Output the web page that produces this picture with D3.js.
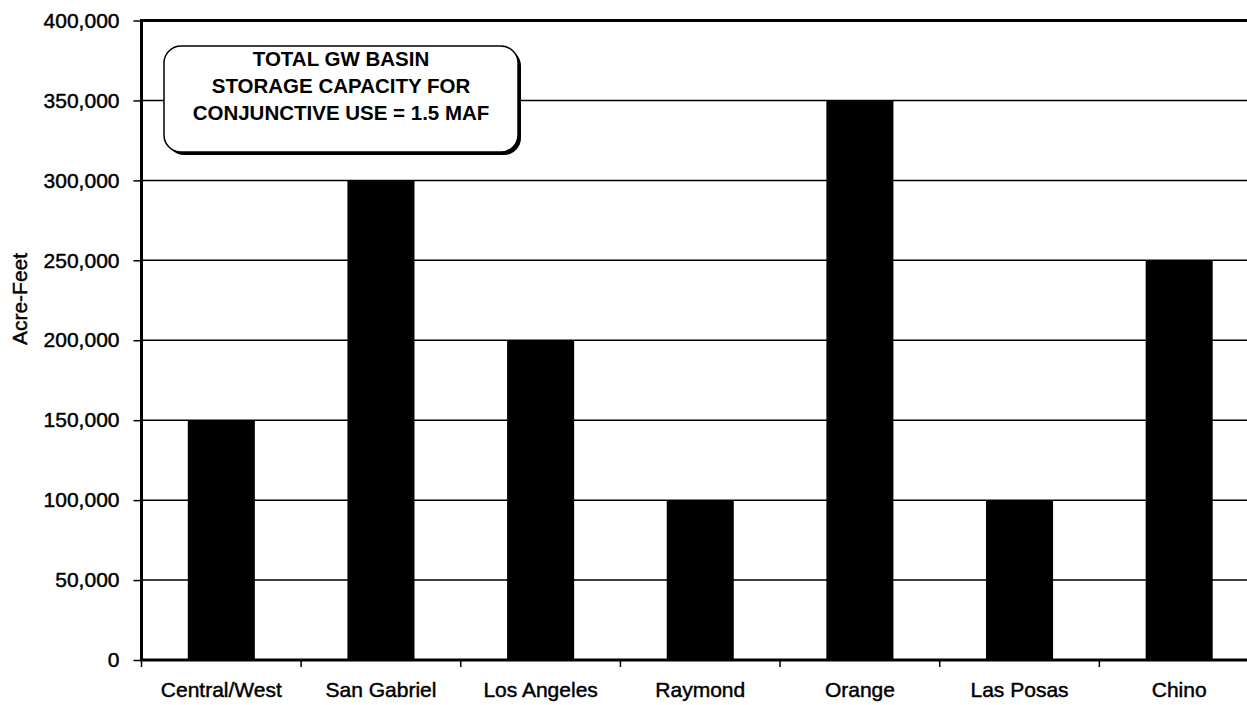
<!DOCTYPE html>
<html>
<head>
<meta charset="utf-8">
<script src="https://cdn.jsdelivr.net/npm/d3@7"></script>
<style>
  body { margin: 0; background: #fff; }
  svg text { font-family: Arial, "Liberation Sans", sans-serif; fill: #000; }
  .label { stroke: #000; stroke-width: 0.45px; }
</style>
</head>
<body>
<svg id="chart" width="1247" height="705"></svg>
<script>
// Groundwater basins and their storage capacity for conjunctive use (acre-feet)
const basins = ["Central/West", "San Gabriel", "Los Angeles", "Raymond", "Orange", "Las Posas", "Chino"];
const storageAF = [150000, 300000, 200000, 100000, 350000, 100000, 250000];
const yTickValues = [0, 50000, 100000, 150000, 200000, 250000, 300000, 350000, 400000];
const yAxisTitle = "Acre-Feet";
const noteLines = ["TOTAL GW BASIN", "STORAGE CAPACITY FOR", "CONJUNCTIVE USE = 1.5 MAF"];

const svg = d3.select("#chart");
const plot = { left: 141.5, right: 1259, top: 20.5, bottom: 660 };

const x = d3.scaleBand()
  .domain(basins)
  .range([plot.left, plot.right])
  .paddingInner(0.58)
  .paddingOuter(0.29);

const y = d3.scaleLinear()
  .domain([0, 400000])
  .range([plot.bottom, plot.top]);

// Horizontal gridlines
svg.append("g")
  .selectAll("line")
  .data(yTickValues.filter(v => v > 0 && v < 400000))
  .join("line")
  .attr("x1", plot.left).attr("x2", plot.right)
  .attr("y1", d => y(d)).attr("y2", d => y(d))
  .attr("stroke", "#000").attr("stroke-width", 1.5);

// Top frame line at the axis maximum
svg.append("line")
  .attr("x1", plot.left).attr("x2", plot.right)
  .attr("y1", y(400000)).attr("y2", y(400000))
  .attr("stroke", "#000").attr("stroke-width", 3);

// Bars
svg.append("g")
  .selectAll("rect")
  .data(basins.map((b, i) => ({ basin: b, value: storageAF[i] })))
  .join("rect")
  .attr("x", d => x(d.basin))
  .attr("width", x.bandwidth())
  .attr("y", d => y(d.value))
  .attr("height", d => y(0) - y(d.value))
  .attr("fill", "#000");

// Y axis
const yAxis = svg.append("g")
  .attr("transform", `translate(${plot.left},0)`)
  .call(d3.axisLeft(y)
    .tickValues(yTickValues)
    .tickFormat(d3.format(","))
    .tickSize(8)
    .tickPadding(14));
yAxis.select(".domain").attr("stroke", "#000").attr("stroke-width", 3)
  .attr("d", `M0,${plot.top - 1.5}V${plot.bottom}`);
yAxis.selectAll(".tick line").attr("stroke", "#000").attr("stroke-width", 1.5);
yAxis.selectAll(".tick text")
  .attr("class", "label")
  .attr("font-size", 21)
  .attr("font-family", "Arial, 'Liberation Sans', sans-serif");

// X axis with ticks at the category boundaries
const xAxis = svg.append("g")
  .attr("transform", `translate(0,${plot.bottom})`)
  .call(d3.axisBottom(x).tickSize(0).tickPadding(22));
xAxis.select(".domain").attr("stroke", "#000").attr("stroke-width", 3)
  .attr("d", `M${plot.left - 1.5},0H${plot.right}`);
xAxis.selectAll(".tick text")
  .attr("class", "label")
  .attr("font-size", 21)
  .attr("font-family", "Arial, 'Liberation Sans', sans-serif");

const step = x.step();
const boundaries = d3.range(basins.length + 1).map(i => x(basins[0]) - x.paddingOuter() * step + i * step);
xAxis.append("g")
  .selectAll("line")
  .data(boundaries)
  .join("line")
  .attr("x1", d => d).attr("x2", d => d)
  .attr("y1", 0).attr("y2", 7)
  .attr("stroke", "#000").attr("stroke-width", 1.5);

// Y axis title
svg.append("text")
  .attr("class", "label")
  .attr("transform", "translate(27,299) rotate(-90)")
  .attr("text-anchor", "middle")
  .attr("font-size", 21)
  .text(yAxisTitle);

// Rounded callout box with drop shadow
const box = { x: 164, y: 46, w: 354, h: 106, r: 17 };
svg.append("rect")
  .attr("x", box.x + 3).attr("y", box.y + 3)
  .attr("width", box.w).attr("height", box.h)
  .attr("rx", box.r).attr("ry", box.r)
  .attr("fill", "#000");
svg.append("rect")
  .attr("x", box.x).attr("y", box.y)
  .attr("width", box.w).attr("height", box.h)
  .attr("rx", box.r).attr("ry", box.r)
  .attr("fill", "#fff").attr("stroke", "#000").attr("stroke-width", 1.5);

svg.append("g")
  .selectAll("text")
  .data(noteLines)
  .join("text")
  .attr("x", box.x + box.w / 2)
  .attr("y", (d, i) => 66 + i * 27)
  .attr("text-anchor", "middle")
  .attr("font-size", 20.5)
  .attr("font-weight", "bold")
  .text(d => d);
</script>
</body>
</html>
